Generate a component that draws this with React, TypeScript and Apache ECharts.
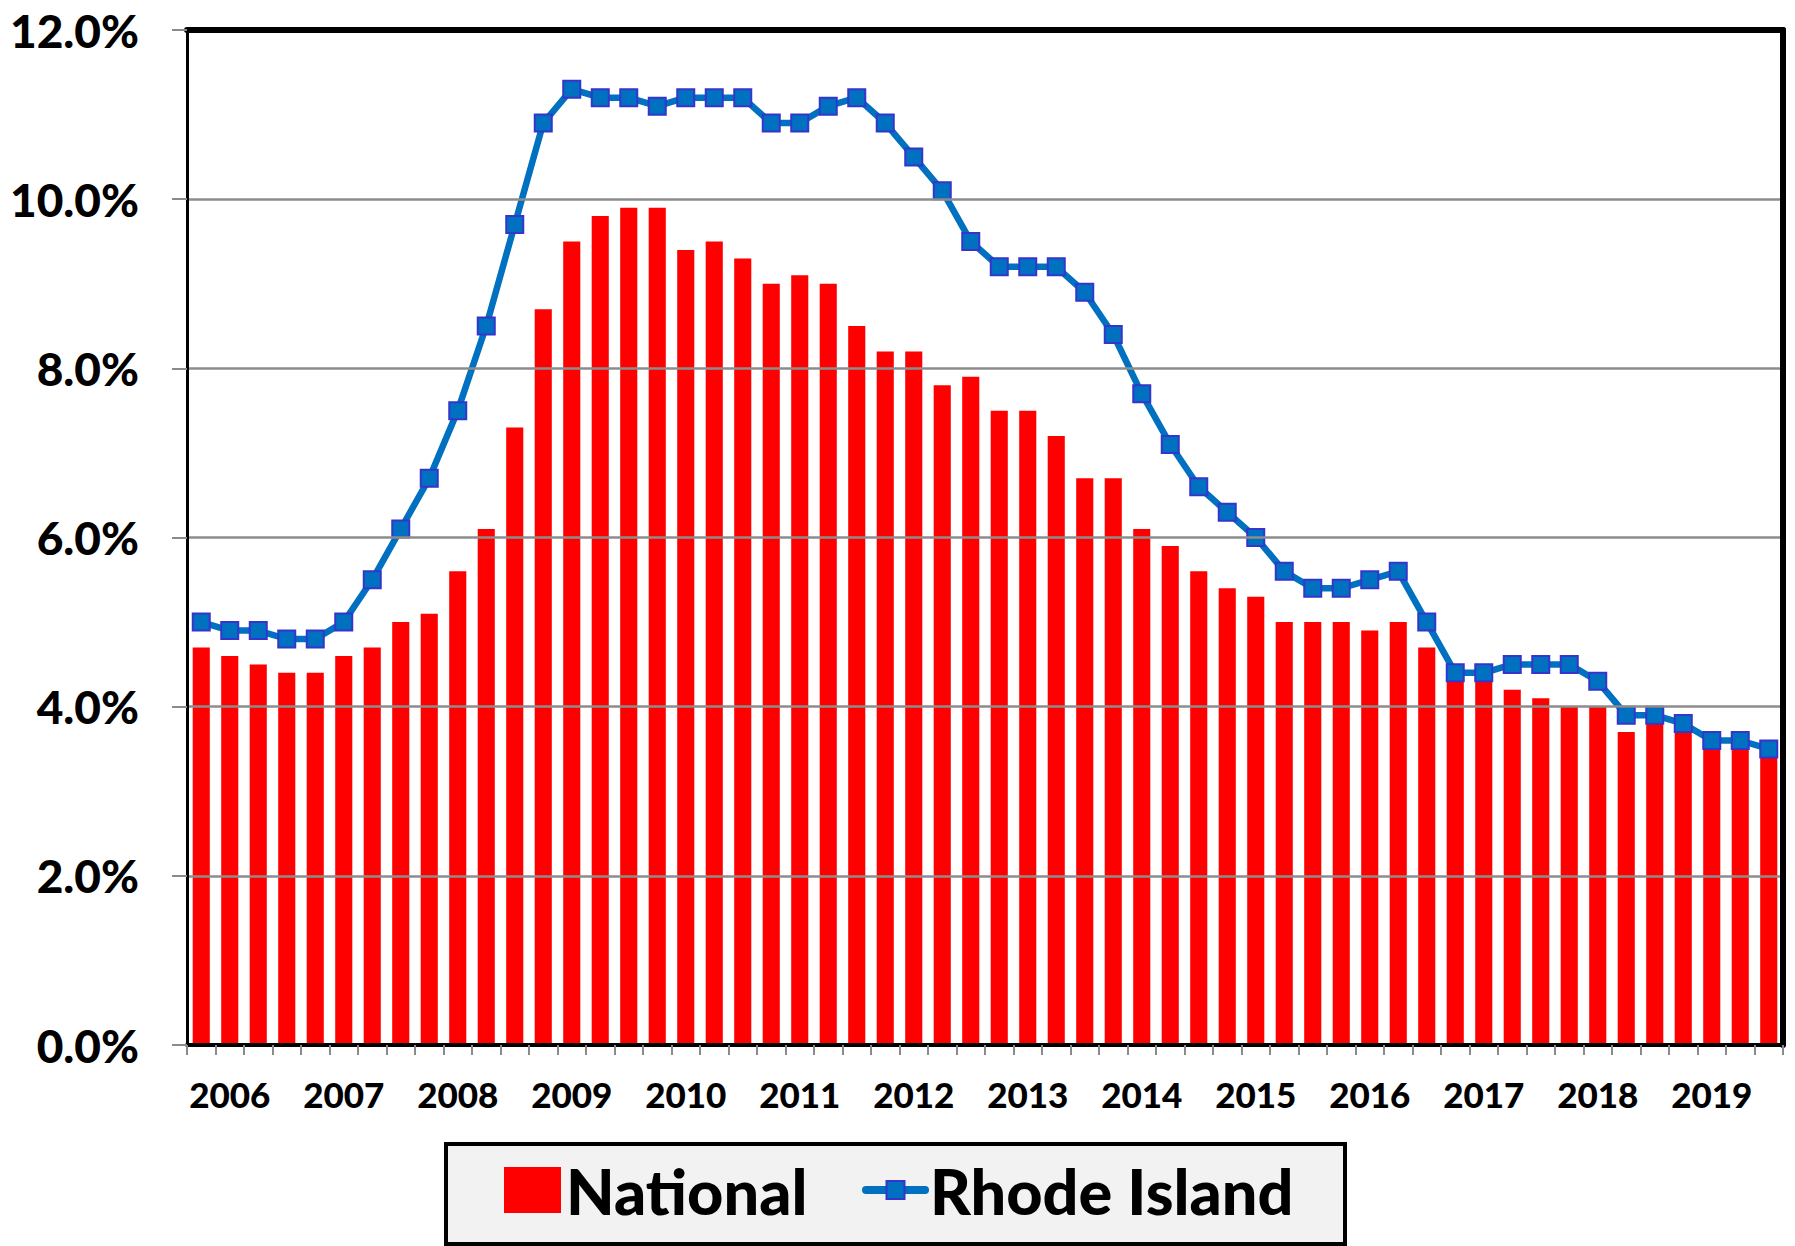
import React, { useEffect, useRef } from "react";
import * as echarts from "echarts";

const years = ["2006", "2007", "2008", "2009", "2010", "2011", "2012", "2013", "2014", "2015", "2016", "2017", "2018", "2019"];
const quarterNames = ["Q1", "Q2", "Q3", "Q4"];
const categories = years.flatMap((y) => quarterNames.map((q) => `${y} ${q}`));

const national = [
  4.7, 4.6, 4.5, 4.4,
  4.4, 4.6, 4.7, 5.0,
  5.1, 5.6, 6.1, 7.3,
  8.7, 9.5, 9.8, 9.9,
  9.9, 9.4, 9.5, 9.3,
  9.0, 9.1, 9.0, 8.5,
  8.2, 8.2, 7.8, 7.9,
  7.5, 7.5, 7.2, 6.7,
  6.7, 6.1, 5.9, 5.6,
  5.4, 5.3, 5.0, 5.0,
  5.0, 4.9, 5.0, 4.7,
  4.4, 4.3, 4.2, 4.1,
  4.0, 4.0, 3.7, 3.8,
  3.8, 3.7, 3.5, 3.5,
];

const rhodeIsland = [
  5.0, 4.9, 4.9, 4.8,
  4.8, 5.0, 5.5, 6.1,
  6.7, 7.5, 8.5, 9.7,
  10.9, 11.3, 11.2, 11.2,
  11.1, 11.2, 11.2, 11.2,
  10.9, 10.9, 11.1, 11.2,
  10.9, 10.5, 10.1, 9.5,
  9.2, 9.2, 9.2, 8.9,
  8.4, 7.7, 7.1, 6.6,
  6.3, 6.0, 5.6, 5.4,
  5.4, 5.5, 5.6, 5.0,
  4.4, 4.4, 4.5, 4.5,
  4.5, 4.3, 3.9, 3.9,
  3.8, 3.6, 3.6, 3.5,
];

const FONT = "Lato";

export default function App() {
  const ref = useRef<HTMLDivElement>(null);
  useEffect(() => {
    document.body.style.margin = "0";
    const chart = echarts.init(ref.current!, null, { renderer: "svg" });
    chart.setOption({
      animation: false,
      backgroundColor: "#ffffff",
      grid: { left: 187, right: 12, top: 30, bottom: 201, containLabel: false },
      xAxis: [
        {
          type: "category",
          data: categories,
          boundaryGap: true,
          z: 10,
          axisLine: { show: true, onZero: false, lineStyle: { color: "#000", width: 4 } },
          axisTick: { show: true, interval: 0, alignWithLabel: false, length: 10, lineStyle: { color: "#8a8a8a", width: 2 } },
          axisLabel: {
            interval: (index: number) => index % 4 === 1,
            formatter: (v: string) => v.slice(0, 4),
            margin: 31,
            fontFamily: FONT,
            fontWeight: 900,
            fontSize: 35,
            color: "#000",
          },
          splitLine: { show: false },
        },
        {
          type: "category",
          data: categories,
          position: "top",
          z: 10,
          axisLine: { show: true, onZero: false, lineStyle: { color: "#000", width: 6 } },
          axisTick: { show: false },
          axisLabel: { show: false },
          splitLine: { show: false },
        },
      ],
      yAxis: [
        {
          type: "value",
          min: 0,
          max: 12,
          interval: 2,
          z: 10,
          axisLine: { show: true, onZero: false, lineStyle: { color: "#000", width: 3 } },
          axisTick: { show: true, length: 15, lineStyle: { color: "#8a8a8a", width: 2 } },
          axisLabel: {
            formatter: (v: number) => v.toFixed(1) + "%",
            margin: 48,
            fontFamily: FONT,
            fontWeight: 900,
            fontSize: 46,
            color: "#000",
          },
          splitLine: { show: true, lineStyle: { color: "#8c8c8c", width: 2.5 } },
        },
        {
          type: "value",
          min: 0,
          max: 12,
          interval: 2,
          position: "right",
          z: 10,
          axisLine: { show: true, onZero: false, lineStyle: { color: "#000", width: 6 } },
          axisTick: { show: false },
          axisLabel: { show: false },
          splitLine: { show: false },
        },
      ],
      graphic: [
        {
          type: "rect",
          left: 444,
          top: 1142,
          z: 0,
          shape: { width: 899, height: 100 },
          style: { fill: "#f2f2f2", stroke: "#000", lineWidth: 4 },
        },
      ],
      legend: [
        {
          data: [{ name: "National", icon: "rect" }],
          left: 504,
          top: 1155,
          padding: 0,
          itemGap: 0,
          itemWidth: 57,
          itemHeight: 46,
          z: 5,
          textStyle: { fontFamily: FONT, fontWeight: 900, fontSize: 63, lineHeight: 70, color: "#000" },
        },
        {
          data: ["Rhode Island"],
          left: 862,
          top: 1155,
          padding: 0,
          itemGap: 0,
          itemWidth: 59,
          itemHeight: 22.5,
          z: 5,
          lineStyle: { width: 8, cap: "round" },
          textStyle: { fontFamily: FONT, fontWeight: 900, fontSize: 63, lineHeight: 70, color: "#000" },
        },
      ],
      series: [
        {
          name: "National",
          type: "bar",
          data: national,
          barCategoryGap: "40%",
          itemStyle: { color: "#ff0000" },
          z: 2,
        },
        {
          name: "Rhode Island",
          type: "line",
          data: rhodeIsland,
          symbol: "rect",
          symbolSize: 17,
          lineStyle: { color: "#0070c0", width: 6.5 },
          itemStyle: { color: "#0070c0", borderColor: "#3535cc", borderWidth: 2 },
          z: 3,
        },
      ],
    });
    return () => chart.dispose();
  }, []);
  return <div ref={ref} style={{ width: 1795, height: 1246 }} />;
}
